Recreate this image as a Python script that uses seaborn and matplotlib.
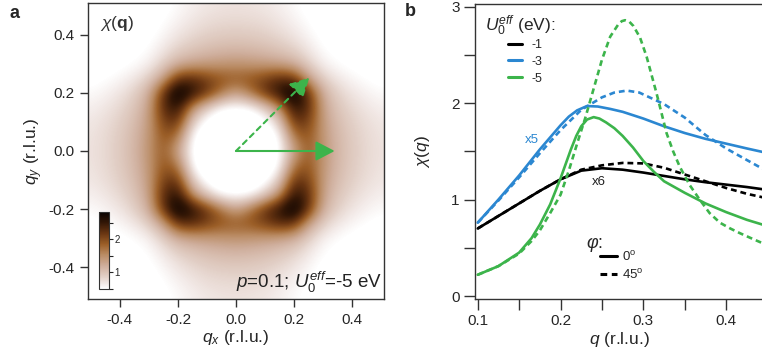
import numpy as np
import pandas as pd
import matplotlib
matplotlib.use('Agg')
import matplotlib.pyplot as plt
import seaborn as sns
from matplotlib.colors import LinearSegmentedColormap
from matplotlib.lines import Line2D

# ---------------- panel a : chi(q) map ----------------
# one quadrant, qx and qy from 0 to 0.5 in steps of 0.05 (rows = qy, columns = qx)
chi_quadrant = [
    [0.00, 0.05, 0.20, 0.45, 1.30, 1.90, 1.45, 1.12, 0.92, 0.80, 0.72],
    [0.05, 0.08, 0.22, 0.50, 1.70, 1.95, 1.42, 1.10, 0.91, 0.79, 0.71],
    [0.20, 0.22, 0.40, 0.90, 2.20, 2.10, 1.38, 1.05, 0.87, 0.76, 0.68],
    [0.45, 0.50, 0.90, 1.50, 2.60, 2.30, 1.32, 0.97, 0.80, 0.69, 0.62],
    [1.30, 1.70, 2.20, 2.60, 3.00, 2.20, 1.20, 0.86, 0.70, 0.60, 0.54],
    [1.90, 1.95, 2.10, 2.30, 2.20, 1.35, 0.88, 0.68, 0.57, 0.50, 0.45],
    [1.45, 1.42, 1.38, 1.32, 1.20, 0.88, 0.62, 0.52, 0.46, 0.42, 0.40],
    [1.12, 1.10, 1.05, 0.97, 0.86, 0.68, 0.52, 0.45, 0.40, 0.38, 0.36],
    [0.92, 0.91, 0.87, 0.80, 0.70, 0.57, 0.46, 0.40, 0.36, 0.34, 0.33],
    [0.80, 0.79, 0.76, 0.69, 0.60, 0.50, 0.42, 0.38, 0.34, 0.32, 0.30],
    [0.72, 0.71, 0.68, 0.62, 0.54, 0.45, 0.40, 0.36, 0.33, 0.30, 0.30],
]
map_step = 0.05
cbar_ticks = [0.5, 1, 1.5, 2, 2.5]
cbar_labels = ['', '1', '', '2', '']
qa_ticks = [-0.4, -0.2, 0.0, 0.2, 0.4]
qa_labels = ['-0.4', '-0.2', '0.0', '0.2', '0.4']
arrow_tip_0 = (0.34, 0.0)
arrow_tip_45 = (0.253, 0.253)

# ---------------- panel b : line cuts ----------------
q_m1_0 = [0.1, 0.125, 0.15, 0.175, 0.2, 0.225, 0.25, 0.275, 0.3, 0.325, 0.35, 0.375, 0.4, 0.425, 0.446]
chi_m1_0 = [0.70, 0.83, 0.96, 1.09, 1.21, 1.30, 1.325, 1.31, 1.28, 1.245, 1.21, 1.18, 1.155, 1.13, 1.105]
q_m1_45 = [0.1, 0.125, 0.15, 0.175, 0.2, 0.225, 0.25, 0.275, 0.3, 0.325, 0.35, 0.375, 0.4, 0.425, 0.446]
chi_m1_45 = [0.70, 0.83, 0.96, 1.09, 1.21, 1.31, 1.355, 1.38, 1.375, 1.33, 1.26, 1.19, 1.12, 1.06, 1.02]

q_m3_0 = [0.1, 0.125, 0.15, 0.175, 0.2, 0.21, 0.22, 0.232, 0.245, 0.26, 0.275, 0.3, 0.325, 0.35,
          0.375, 0.4, 0.425, 0.446]
chi_m3_0 = [0.76, 1.00, 1.25, 1.52, 1.77, 1.86, 1.925, 1.97, 1.965, 1.94, 1.91, 1.84, 1.76, 1.69,
            1.63, 1.58, 1.53, 1.49]
q_m3_45 = [0.1, 0.125, 0.15, 0.175, 0.2, 0.225, 0.25, 0.265, 0.28, 0.295, 0.31, 0.325, 0.35, 0.375,
           0.4, 0.425, 0.446]
chi_m3_45 = [0.76, 0.99, 1.23, 1.48, 1.72, 1.93, 2.06, 2.11, 2.13, 2.11, 2.05, 1.99, 1.85, 1.67,
             1.53, 1.41, 1.31]

q_m5_0 = [0.1, 0.125, 0.15, 0.165, 0.175, 0.1875, 0.2, 0.2125, 0.219, 0.225, 0.232, 0.24, 0.247,
          0.255, 0.265, 0.275, 0.2875, 0.3, 0.3125, 0.325, 0.35, 0.375, 0.4, 0.425, 0.446]
chi_m5_0 = [0.22, 0.31, 0.45, 0.60, 0.74, 0.95, 1.22, 1.52, 1.66, 1.76, 1.83, 1.855, 1.84,
            1.80, 1.74, 1.66, 1.54, 1.40, 1.29, 1.19, 1.07, 0.96, 0.87, 0.79, 0.735]
q_m5_45 = [0.1, 0.125, 0.15, 0.165, 0.175, 0.1875, 0.2, 0.21, 0.22, 0.23, 0.24, 0.25, 0.26, 0.27,
           0.274, 0.278, 0.283, 0.288, 0.296, 0.304, 0.316, 0.328, 0.336, 0.344, 0.356, 0.368,
           0.38, 0.3925, 0.405, 0.417, 0.43, 0.446]
chi_m5_45 = [0.22, 0.31, 0.44, 0.57, 0.68, 0.86, 1.05, 1.30, 1.58, 1.85, 2.15, 2.45, 2.69, 2.82,
             2.85, 2.86, 2.845, 2.80, 2.68, 2.48, 2.10, 1.69, 1.50, 1.34, 1.15, 1.00,
             0.86, 0.76, 0.70, 0.65, 0.60, 0.54]

u_labels = ['-1', '-3', '-5']
phi_labels = ['0', '45']
colors = {'-1': '#000000', '-3': '#2b87d1', '-5': '#3cb44b'}

sns.set_style('ticks')
plt.rcParams['font.family'] = ['Liberation Sans', 'DejaVu Sans']
plt.rcParams['mathtext.fontset'] = 'custom'
plt.rcParams['mathtext.rm'] = 'Liberation Sans'
plt.rcParams['mathtext.it'] = 'Liberation Sans:italic'
plt.rcParams['mathtext.bf'] = 'Liberation Sans:bold'
plt.rcParams['axes.unicode_minus'] = False
plt.rcParams['axes.edgecolor'] = '#333333'
plt.rcParams['axes.linewidth'] = 1.0

fig = plt.figure(figsize=(7.62, 3.58), dpi=100)
axa = fig.add_axes([88 / 762, 59 / 358, 296 / 762, 296 / 358])
axb = fig.add_axes([475 / 762, 59 / 358, 289 / 762, 295 / 358])
cax = fig.add_axes([99 / 762, 69 / 358, 10 / 762, 77 / 358])

# ---- panel a ----
cmap = LinearSegmentedColormap.from_list('mud', [
    (0.0, '#ffffff'), (0.06, '#f4ecea'), (0.16, '#e2cfc6'), (0.3, '#cfae9c'),
    (0.45, '#b98a62'), (0.58, '#9c5f28'), (0.72, '#6a3612'), (0.86, '#341706'),
    (1.0, '#0a0302')])

quad = np.array(chi_quadrant)
full = np.vstack([quad[:0:-1], quad])
full = np.hstack([full[:, :0:-1], full])
edge = map_step * (quad.shape[0] - 1) + map_step / 2
im = axa.imshow(full, origin='lower', extent=[-edge, edge, -edge, edge], cmap=cmap,
                vmin=0.5, vmax=2.83, interpolation='bicubic', aspect='auto')
axa.set_xlim(-0.51, 0.51)
axa.set_ylim(-0.51, 0.51)
axa.set_xticks(qa_ticks)
axa.set_xticklabels(qa_labels)
axa.set_yticks(qa_ticks)
axa.set_yticklabels(qa_labels)
axa.tick_params(length=6, width=1, labelsize=11, pad=4, color='#333333')
axa.set_xlabel(r'$q_x$ (r.l.u.)', fontsize=12.5, labelpad=1)
axa.set_ylabel(r'$q_y$ (r.l.u.)', fontsize=12.5, labelpad=2)

green = colors['-5']
axa.annotate('', xy=arrow_tip_0, xytext=(0, 0),
             arrowprops=dict(arrowstyle='-|>,head_length=1.15,head_width=0.6', color=green,
                             lw=1.5, mutation_scale=10, shrinkA=0, shrinkB=0))
axa.annotate('', xy=arrow_tip_45, xytext=(0, 0),
             arrowprops=dict(arrowstyle='-|>,head_length=1.15,head_width=0.6', color=green,
                             lw=1.5, mutation_scale=10, shrinkA=0, shrinkB=0,
                             linestyle=(0, (2.5, 2.2))))

axa.text(0.04, 0.932, r'$\chi(\mathbf{q})$', transform=axa.transAxes, fontsize=12.5,
         va='center', ha='left', color='#333333')
axa.text(0.993, 0.037, r'$p$=0.1; $U_{\mathit{0}}^{\mathit{eff}}$=-5 eV', transform=axa.transAxes,
         fontsize=13.5, ha='right', va='baseline', color='#222222')

cb = fig.colorbar(im, cax=cax)
cb.set_ticks(cbar_ticks)
cb.set_ticklabels(cbar_labels)
cb.outline.set_linewidth(0.8)
cax.tick_params(length=3, width=0.8, labelsize=7, pad=1)

# ---- panel b ----
frames = []
for u, q0, c0, q45, c45 in [('-1', q_m1_0, chi_m1_0, q_m1_45, chi_m1_45),
                            ('-3', q_m3_0, chi_m3_0, q_m3_45, chi_m3_45),
                            ('-5', q_m5_0, chi_m5_0, q_m5_45, chi_m5_45)]:
    frames.append(pd.DataFrame({'q': q0, 'chi': c0, 'U': u, 'phi': '0'}))
    frames.append(pd.DataFrame({'q': q45, 'chi': c45, 'U': u, 'phi': '45'}))
df = pd.concat(frames, ignore_index=True)

dash_45 = (2.2, 1.5)
sns.lineplot(data=df, x='q', y='chi', hue='U', style='phi', hue_order=u_labels,
             style_order=phi_labels, palette=colors, dashes={'0': '', '45': dash_45},
             linewidth=1.9, estimator=None, legend=False, ax=axb)

axb.set_xlim(0.0967, 0.4457)
axb.set_ylim(-0.031, 3.028)
axb.set_xticks([0.1, 0.2, 0.3, 0.4])
axb.set_xticks([0.15, 0.25, 0.35], minor=True)
axb.set_yticks([0, 1, 2, 3])
axb.set_yticks([0.5, 1.5, 2.5], minor=True)
axb.tick_params(which='both', length=8, width=1, labelsize=11, pad=3, color='#333333')
axb.set_xlabel(r'$q$ (r.l.u.)', fontsize=12.5, labelpad=1)
axb.set_ylabel(r'$\chi(q)$', fontsize=12.5, labelpad=14)

axb.text(0.1656, 1.62, 'x5', color=colors['-3'], fontsize=9.5, ha='center', va='center')
axb.text(0.2459, 1.18, 'x6', color='#222222', fontsize=9.5, ha='center', va='center')

axb.text((485 - 475) / 289, (299 - 31) / 295, r'$U_{\mathit{0}}^{\mathit{eff}}$ (eV):',
         transform=axb.transAxes, fontsize=12.5, ha='left', va='baseline')
u_handles = [Line2D([], [], color=colors[u], lw=2.2) for u in u_labels]
leg1 = axb.legend(u_handles, u_labels, fontsize=9, frameon=False, loc='upper left',
                  bbox_to_anchor=((508 - 475) / 289, (299 - 39) / 295), borderaxespad=0,
                  borderpad=0, handlelength=1.15, handletextpad=0.7, labelspacing=0.38)
axb.add_artist(leg1)
phi_handles = [Line2D([], [], color='black', lw=2.2),
               Line2D([], [], color='black', lw=2.2, dashes=dash_45)]
axb.legend(phi_handles, ['0$^{\\mathrm{o}}$', '45$^{\\mathrm{o}}$'], fontsize=9.5,
           frameon=False, loc='upper left', bbox_to_anchor=((600 - 475) / 289, (299 - 250) / 295),
           borderaxespad=0, borderpad=0, handlelength=1.3, handletextpad=0.4, labelspacing=0.3)
axb.text((586 - 475) / 289, (299 - 244) / 295, r'$\varphi$:', transform=axb.transAxes,
         fontsize=13, ha='left', va='center')

fig.text(10 / 762, 1 - 13 / 358, 'a', fontsize=13, fontweight='bold', va='center')
fig.text(405 / 762, 1 - 11 / 358, 'b', fontsize=13, fontweight='bold', va='center')

fig.savefig('out.png', dpi=100)
